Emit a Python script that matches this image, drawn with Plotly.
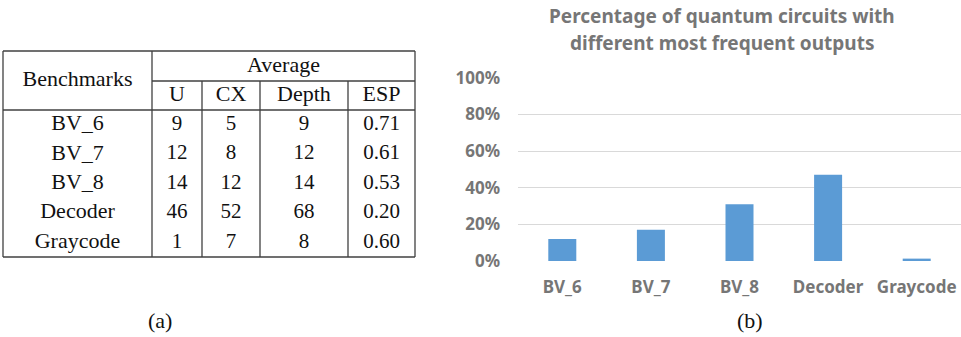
import plotly.graph_objects as go

W, H = 961, 337

# ---------------- data ----------------
benchmarks = ["BV_6", "BV_7", "BV_8", "Decoder", "Graycode"]
avg_u = [9, 12, 14, 46, 1]
avg_cx = [5, 8, 12, 52, 7]
avg_depth = [9, 12, 14, 68, 8]
avg_esp = ["0.71", "0.61", "0.53", "0.20", "0.60"]
sub_headers = ["U", "CX", "Depth", "ESP"]
pct_diff = [0.12, 0.17, 0.31, 0.47, 0.013]
y_ticks = [0, 0.2, 0.4, 0.6, 0.8, 1.0]
y_tick_text = ["0%", "20%", "40%", "60%", "80%", "100%"]

# ---------------- table layout (pixel units on hidden axes) ----------------
col_edges = [3, 152, 202, 260, 348, 415]
tbl_top, tbl_mid, tbl_head_bot, tbl_bot = 51, 81, 110, 257
n_rows = len(benchmarks)
row_h = (tbl_bot - tbl_head_bot) / n_rows
col_centers = [(col_edges[i] + col_edges[i + 1]) / 2 for i in range(len(col_edges) - 1)]

SERIF = "Liberation Serif"
TFS_NUM = 21
TFS_WORD = 22
LINE_C = "#404040"

fig = go.Figure()

# table text
tx, ty, tt, ts = [], [], [], []
def cell(x, y, s):
    tx.append(x); ty.append(y); tt.append(s)
    ts.append(TFS_WORD if any(ch.isalpha() for ch in s) else TFS_NUM)

cell(col_centers[0], (tbl_top + tbl_head_bot) / 2, "Benchmarks")
cell((col_edges[1] + col_edges[-1]) / 2, (tbl_top + tbl_mid) / 2, "Average")
for j, h in enumerate(sub_headers):
    cell(col_centers[j + 1], (tbl_mid + tbl_head_bot) / 2, h)
cols = [benchmarks, avg_u, avg_cx, avg_depth, avg_esp]
for i in range(n_rows):
    yc = tbl_head_bot + row_h * (i + 0.5)
    for j, c in enumerate(cols):
        cell(col_centers[j], yc, str(c[i]))

fig.add_trace(go.Scatter(
    x=tx, y=ty, text=tt, mode="text", textposition="middle center",
    textfont=dict(family=SERIF, size=ts, color="#111111"),
    xaxis="x2", yaxis="y2", showlegend=False, hoverinfo="skip", cliponaxis=False))

shapes = []
def hline(x0, x1, y):
    shapes.append(dict(type="line", xref="x2", yref="y2", x0=x0, x1=x1, y0=y, y1=y,
                       line=dict(color=LINE_C, width=1.3)))
def vline(x, y0, y1):
    shapes.append(dict(type="line", xref="x2", yref="y2", x0=x, x1=x, y0=y0, y1=y1,
                       line=dict(color=LINE_C, width=1.3)))

hline(col_edges[0], col_edges[-1], tbl_top)
hline(col_edges[1], col_edges[-1], tbl_mid)
hline(col_edges[0], col_edges[-1], tbl_head_bot)
hline(col_edges[0], col_edges[-1], tbl_bot)
vline(col_edges[0], tbl_top, tbl_bot)
vline(col_edges[1], tbl_top, tbl_bot)
for x in col_edges[2:-1]:
    vline(x, tbl_mid, tbl_bot)
vline(col_edges[-1], tbl_top, tbl_bot)

# ---------------- bar chart ----------------
BAR_C = "#5b9bd5"
GRAY = "#767676"
SANS = "Noto Sans"

fig.add_trace(go.Bar(
    x=benchmarks, y=pct_diff, marker=dict(color=BAR_C, line=dict(width=0)),
    xaxis="x", yaxis="y", showlegend=False, hoverinfo="skip"))

plot_left, plot_right = 518, 961
y0_px, y100_px = 261, 77.7

annotations = [
    dict(text="<b>Percentage of quantum circuits with</b>", x=722 / W, y=1 - 16 / H,
         xref="paper", yref="paper", showarrow=False, xanchor="center", yanchor="middle",
         font=dict(family=SANS, size=19, color=GRAY)),
    dict(text="<b>different most frequent outputs</b>", x=722 / W, y=1 - 43 / H,
         xref="paper", yref="paper", showarrow=False, xanchor="center", yanchor="middle",
         font=dict(family=SANS, size=19, color=GRAY)),
    dict(text="(a)", x=160 / W, y=1 - 320 / H, xref="paper", yref="paper",
         showarrow=False, xanchor="center", yanchor="middle",
         font=dict(family=SERIF, size=22, color="#111111")),
    dict(text="(b)", x=750 / W, y=1 - 320 / H, xref="paper", yref="paper",
         showarrow=False, xanchor="center", yanchor="middle",
         font=dict(family=SERIF, size=22, color="#111111")),
]

fig.update_layout(
    template="none",
    width=W, height=H, margin=dict(l=0, r=0, t=0, b=0, pad=0, autoexpand=False),
    paper_bgcolor="white", plot_bgcolor="white",
    bargap=0.684,
    shapes=shapes, annotations=annotations,
    xaxis=dict(domain=[plot_left / W, plot_right / W], anchor="y", automargin=False,
               showgrid=False, zeroline=False, showline=False, ticks="",
               tickvals=benchmarks, ticktext=["<b>%s</b>" % b for b in benchmarks],
               tickfont=dict(family=SANS, size=17, color=GRAY),
               ticklabelstandoff=14),
    yaxis=dict(domain=[1 - y0_px / H, 1 - y100_px / H], anchor="x", automargin=False,
               range=[0, 1], tickvals=y_ticks,
               ticktext=["<b>%s</b>" % t for t in y_tick_text],
               showgrid=True, gridcolor="#d9d9d9", gridwidth=1,
               zeroline=False, showline=False, ticks="",
               tickfont=dict(family=SANS, size=17, color=GRAY),
               ticklabelstandoff=17),
    xaxis2=dict(domain=[0, 420 / W], range=[0, 420], visible=False, anchor="y2",
                automargin=False),
    yaxis2=dict(domain=[0, 1], range=[H, 0], visible=False, anchor="x2",
                automargin=False),
)

fig.write_html("out.html")
